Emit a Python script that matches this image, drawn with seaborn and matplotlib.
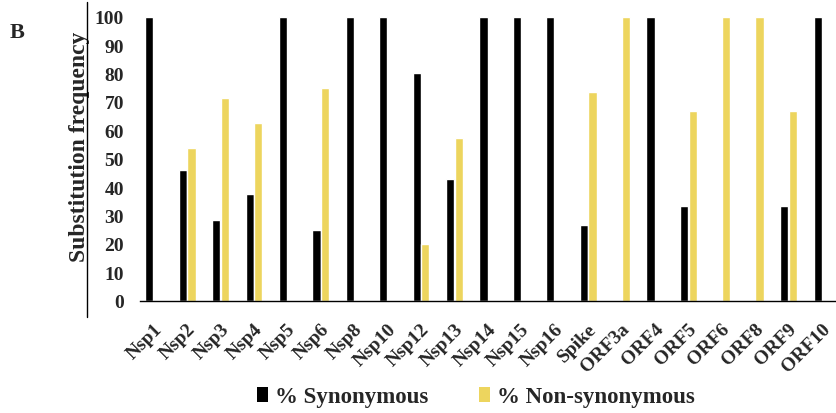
import matplotlib
matplotlib.use("Agg")
import matplotlib.pyplot as plt
import matplotlib.transforms as mtransforms
from matplotlib.lines import Line2D
from matplotlib.patches import Patch
import pandas as pd
import seaborn as sns

# Substitution frequencies per gene (percent of substitutions)
genes = ["Nsp1", "Nsp2", "Nsp3", "Nsp4", "Nsp5", "Nsp6", "Nsp8", "Nsp10",
         "Nsp12", "Nsp13", "Nsp14", "Nsp15", "Nsp16", "Spike", "ORF3a",
         "ORF4", "ORF5", "ORF6", "ORF8", "ORF9", "ORF10"]
synonymous = [100, 46.15, 28.57, 37.5, 100, 25, 100, 100,
              80, 42.86, 100, 100, 100, 26.67, 0,
              100, 33.33, 0, 0, 33.33, 100]
non_synonymous = [0, 53.85, 71.43, 62.5, 0, 75, 0, 0,
                  20, 57.14, 0, 0, 0, 73.33, 100,
                  0, 66.67, 100, 100, 66.67, 0]
series_names = ["% Synonymous", "% Non-synonymous"]
colors = {"% Synonymous": "#000000", "% Non-synonymous": "#EDD55E"}
yticks = [0, 10, 20, 30, 40, 50, 60, 70, 80, 90, 100]

df = pd.DataFrame({
    "gene": genes * 2,
    "value": synonymous + non_synonymous,
    "type": [series_names[0]] * len(genes) + [series_names[1]] * len(genes),
})

sns.set_style("white")
plt.rcParams["font.family"] = ["Liberation Serif", "DejaVu Serif"]
plt.rcParams["font.weight"] = "bold"

fig = plt.figure(figsize=(8.36, 4.14), dpi=100)
ax = fig.add_axes([0.1675, 0.2713, 0.8325, 0.686])

sns.barplot(data=df, x="gene", y="value", hue="type", order=genes,
            hue_order=series_names, palette=colors, width=0.52, gap=0.06,
            saturation=1, legend=False, ax=ax)

ax.set_xlim(-0.41, len(genes) - 1 + 0.42)
ax.set_ylim(0, 100)
ax.set_yticks(yticks)
ax.set_yticklabels([str(t) for t in yticks], fontsize=14, fontweight="bold")
ax.tick_params(axis="y", length=0, pad=11.5)
ax.tick_params(axis="x", length=0, pad=18)
ax.set_xlabel("")
ax.set_ylabel("Substitution frequency", fontsize=17, fontweight="bold")
ax.yaxis.set_label_coords(-0.072, 0.545)

ax.set_xticks(range(len(genes)))
ax.set_xticklabels(genes, rotation=45, ha="right", va="center",
                   rotation_mode="anchor", fontsize=14,
                   fontweight="bold")
shift = mtransforms.ScaledTranslation(4 / 72, 0, fig.dpi_scale_trans)
for lbl in ax.get_xticklabels():
    lbl.set_transform(lbl.get_transform() + shift)

for side in ("top", "right", "left"):
    ax.spines[side].set_visible(False)
ax.spines["bottom"].set_color("black")
ax.spines["bottom"].set_linewidth(1.0)

# Free-standing vertical rule to the left of the value labels
fig.add_artist(Line2D([0.104, 0.104], [0.232, 0.993],
                      transform=fig.transFigure, color="black", lw=1.0))

fig.text(0.012, 0.92, "B", fontsize=16, fontweight="bold", va="center")

handles = [Patch(facecolor=colors[n], edgecolor="none") for n in series_names]
fig.legend(handles, series_names, loc="center", bbox_to_anchor=(0.569, 0.039),
           ncol=2, frameon=False, handlelength=0.5, handleheight=0.6,
           handletextpad=0.3, columnspacing=2.2,
           prop={"size": 16.5, "weight": "bold"})

fig.savefig("out.png", dpi=100)
